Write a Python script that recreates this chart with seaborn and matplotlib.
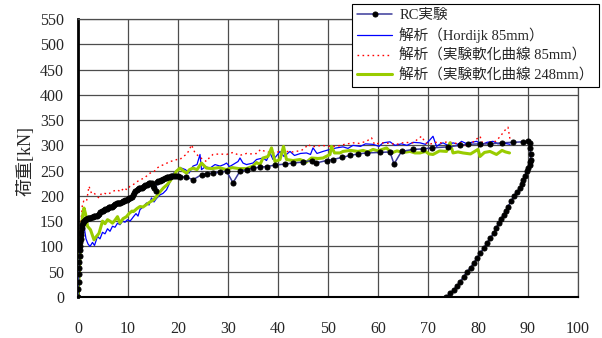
import matplotlib
matplotlib.use("Agg")
import matplotlib.pyplot as plt
import seaborn as sns

# RC experiment: displacement [mm] and load [kN]
rc_x = [0, 0.05, 0.1, 0.15, 0.2, 0.25, 0.3, 0.35, 0.4, 0.45, 0.5, 0.55, 0.6, 0.7, 0.8,
        0.9, 1.0, 1.15, 1.3, 1.5, 1.7, 1.95, 2.2, 2.45, 2.7, 2.95, 3.2, 3.45, 3.7, 3.95,
        4.2, 4.45, 4.7, 4.95, 5.2, 5.45, 5.7, 5.95,
        6.2, 6.45, 6.7, 6.95, 7.2, 7.45, 7.7, 7.95, 8.2, 8.45, 8.7, 8.95, 9.2, 9.45,
        9.7, 9.95, 10.2, 10.45, 10.7, 10.95, 11.2, 11.45, 11.7, 11.95, 12.2, 12.45,
        12.7, 12.95, 13.2, 13.45, 13.7, 13.95, 14.2, 14.45, 14.7, 15.0, 15.2, 15.5,
        15.8, 16.05, 16.3, 16.55, 16.8, 17.05, 17.3, 17.55, 17.8, 18.05, 18.3, 18.55,
        18.8, 19.1, 19.5, 19.9,
        20.4, 21.5, 23.0, 24.7, 25.7, 27.0, 28.4, 29.7, 31.0, 32.4, 33.7, 35.0, 36.4,
        37.7, 39.4, 41.4, 43.0, 45.0, 46.7, 47.6, 49.7, 51.0, 52.7, 54.4, 56.0, 57.7,
        60.4, 62.4, 63.2, 64.7, 67.0, 69.0, 70.7, 74.0, 76.4, 78.0, 80.4, 82.4, 84.7,
        87.0, 89.0, 90.0, 90.4, 90.4, 90.5, 90.5, 90.4, 90.3, 90.0, 89.7, 89.4, 89.0,
        88.7, 88.4, 87.8, 87.1, 86.6, 86.0, 85.6, 85.1, 84.6, 84.1, 83.6, 83.1, 82.4,
        81.7, 81.1, 80.4, 79.8, 79.1, 78.5, 77.8, 77.1, 76.4, 75.8, 75.1, 74.4, 73.6]
rc_y = [0, 15, 30, 45, 58, 70, 82, 92, 100, 108, 115, 122, 128, 136, 142,
        146, 149, 151, 152, 154, 155, 156, 157, 157, 158, 159, 160, 160, 160, 162,
        165, 168, 170, 171, 172, 174, 175, 177,
        178, 178, 178, 180, 182, 184, 185, 185, 185, 186, 188, 189, 190, 191,
        192, 193, 195, 196, 198, 202, 205, 209, 212, 214, 215, 215,
        215, 218, 220, 221, 222, 224, 225, 226, 226, 220, 215, 210,
        228, 229, 230, 231, 232, 234, 235, 236, 237, 237, 238, 239,
        240, 240, 240, 239,
        237, 238, 232, 242, 244, 245, 247, 249, 226, 249, 252, 255, 257,
        258, 261, 263, 265, 267, 270, 265, 270, 272, 276, 280, 283, 285,
        286, 287, 263, 288, 292, 293, 295, 297, 300, 302, 303, 303, 305,
        306, 307, 308, 305, 295, 282, 272, 267, 262, 255, 249, 240, 232,
        224, 216, 208, 199, 189, 179, 171, 163, 155, 146, 136, 126, 116,
        106, 96, 87, 77, 67, 58, 50, 40, 30, 22, 14, 7, 0]

# Analysis, Hordijk softening, 85 mm
hd_x = [0, 0.3, 0.6, 0.9, 1.2, 1.6, 2.0, 2.4, 2.9, 3.3, 3.9, 4.4, 4.9, 5.4, 5.9, 6.4,
        6.9, 7.4, 7.9, 8.4, 8.9, 9.4, 9.9, 10.4, 10.8, 11.1, 11.6, 12.0, 12.4, 13.0,
        13.7, 14.2, 14.7, 15.2, 15.7, 16.4, 17.0, 17.7, 18.3, 19.1, 19.8, 20.7, 21.5,
        22.2, 23.0, 23.8, 24.4, 24.7, 25.5, 26.4, 27.4, 28.4, 29.2, 29.7, 30.3, 31.0,
        32.0, 32.4, 33.0, 33.7, 35.0, 35.7, 37.0, 37.7, 38.4, 39.0, 39.6, 40.4, 41.2,
        42.4, 43.3, 44.5, 45.7, 46.5, 47.0, 47.8, 49.0, 50.4, 51.7, 53.0, 54.0, 55.0,
        56.5, 57.5, 59.0, 60.2, 61.0, 62.4, 63.4, 64.7, 65.8, 67.0, 68.4, 69.5, 70.3,
        71.0, 71.7, 72.3, 73.0, 74.0, 75.0, 76.0, 76.7, 77.8, 78.7, 79.7, 80.8, 81.8,
        83.0, 84.0, 85.0, 86.4]
hd_y = [0, 60, 120, 155, 140, 115, 105, 100, 108, 102, 120, 115, 128, 125, 135, 130,
        140, 138, 146, 143, 150, 148, 153, 150, 155, 159, 165, 160, 173, 178,
        186, 182, 196, 188, 195, 202, 205, 212, 225, 245, 250, 255, 252,
        245, 259, 262, 282, 252, 258, 255, 262, 259, 262, 265, 258, 262,
        268, 275, 265, 262, 265, 272, 275, 270, 285, 272, 278, 288, 278,
        288, 280, 284, 285, 282, 295, 284, 288, 292, 295, 297, 294, 300,
        298, 303, 302, 298, 305, 307, 300, 303, 300, 306, 305, 302, 310,
        318, 298, 302, 305, 300, 305, 302, 308, 303, 306, 308, 302, 306,
        308, 303, 305, 302]

# Analysis, measured softening curve, 85 mm
s85_x = [0, 0.3, 0.6, 0.9, 1.2, 1.7, 2.2, 2.7, 3.2, 3.7, 4.2, 4.7, 5.2, 5.8, 6.5, 7.2,
         7.9, 8.5, 9.2, 9.8, 10.4, 11.0, 11.8, 12.4, 13.2, 13.8, 14.4, 15.2, 15.8, 16.4,
         17.2, 17.8, 18.4, 19.2, 19.8, 20.4, 21.0, 21.7, 22.2, 22.7, 23.4, 24.2, 25.0,
         25.7, 26.3, 27.0, 28.3, 29.7, 31.0, 32.3, 33.7, 34.4, 35.8, 36.5, 37.4, 38.5,
         39.5, 40.5, 41.7, 43.0, 44.7, 45.5, 46.0, 46.8, 48.7, 50.4, 51.7, 53.3, 55.0,
         56.2, 57.7, 58.7, 59.3, 60.5, 62.3, 63.7, 65.3, 67.0, 68.7, 69.5, 70.3, 71.5,
         72.7, 74.0, 75.5, 76.6, 77.7, 78.8, 80.4, 81.0, 82.2, 83.5, 84.5, 85.2, 86.0,
         86.4]
s85_y = [0, 80, 150, 185, 190, 189, 219, 205, 206, 200, 196, 205, 206, 203, 206, 210,
         212, 208, 216, 212, 219, 222, 228, 232, 235, 240, 245, 248, 255, 259,
         262, 265, 268, 270, 272, 272, 278, 282, 290, 301, 285, 278, 272,
         268, 276, 282, 283, 282, 286, 280, 284, 283, 284, 292, 288, 286,
         284, 290, 288, 287, 290, 296, 302, 297, 300, 298, 298, 302, 305,
         304, 308, 315, 302, 305, 304, 302, 306, 305, 318, 305, 302, 306,
         305, 307, 304, 305, 298, 305, 318, 302, 306, 308, 318, 328, 336,
         312]

# Analysis, measured softening curve, 248 mm
s248_x = [0, 0.3, 0.6, 0.9, 1.2, 1.5, 1.9, 2.5, 3.2, 3.7, 4.2, 4.9, 5.4, 5.9, 6.4, 6.9,
          7.4, 7.9, 8.4, 9.0, 9.7, 10.2, 10.8, 11.1, 11.8, 12.4, 13.0, 13.7, 14.4, 15.1,
          15.7, 16.4, 17.1, 17.8, 18.4, 19.1, 19.7, 20.4, 21.0, 21.7, 22.3, 23.0, 23.8,
          24.7, 25.7, 26.8, 28.2, 29.7, 30.8, 32.2, 33.7, 35.0, 35.7, 36.4, 37.0, 38.0,
          38.7, 39.4, 40.4, 41.1, 41.7, 43.0, 44.4, 45.7, 46.7, 48.0, 49.0, 50.4, 50.7,
          51.3, 52.4, 53.0, 54.5, 56.0, 57.0, 58.0, 59.0, 60.0, 61.7, 62.7, 63.8, 65.0,
          66.4, 67.4, 68.4, 69.5, 70.2, 71.0, 72.3, 73.7, 74.4, 75.0, 76.0, 77.0, 78.5,
          80.0, 80.4, 81.3, 82.4, 83.7, 84.8, 85.5, 86.3]
s248_y = [0, 60, 120, 160, 176, 165, 140, 133, 113, 120, 126, 150, 145, 153, 150, 146,
          152, 159, 146, 155, 159, 165, 170, 169, 175, 179, 178, 183, 188, 192,
          199, 208, 216, 222, 229, 240, 249, 255, 250, 245, 252, 255, 252,
          265, 255, 254, 256, 252, 256, 254, 254, 259, 266, 262, 275, 278,
          295, 268, 272, 298, 272, 270, 272, 267, 275, 274, 275, 282, 298,
          285, 285, 288, 290, 288, 290, 287, 292, 289, 295, 285, 289, 286,
          288, 285, 285, 288, 283, 282, 289, 288, 305, 285, 287, 285, 283,
          292, 278, 286, 288, 282, 290, 287, 285]

labels = ["RC実験",
          "解析（Hordijk 85mm）",
          "解析（実験軟化曲線 85mm）",
          "解析（実験軟化曲線 248mm）"]

x_ticks = list(range(0, 101, 10))
y_ticks = list(range(0, 551, 50))

sns.set_style("white")
serif_cjk = ["Liberation Serif", "Noto Sans CJK JP"]
plt.rcParams["font.family"] = serif_cjk

fig = plt.figure(figsize=(6.02, 3.38), dpi=100)
ax = fig.add_axes([78 / 602, 41 / 338, 500 / 602, 278 / 338])

sns.lineplot(x=hd_x, y=hd_y, ax=ax, sort=False, estimator=None,
             color="#0000ff", linewidth=0.9, label=labels[1], zorder=3)
sns.lineplot(x=s85_x, y=s85_y, ax=ax, sort=False, estimator=None,
             color="#ff0000", linewidth=1.0, linestyle=(0, (1.2, 2.4)),
             label=labels[2], zorder=3)
sns.lineplot(x=s248_x, y=s248_y, ax=ax, sort=False, estimator=None,
             color="#99cc00", linewidth=2.2, label=labels[3], zorder=4)
sns.lineplot(x=rc_x, y=rc_y, ax=ax, sort=False, estimator=None,
             color="#3a3a9a", linewidth=1.1, marker="o", markersize=3.6,
             markerfacecolor="black", markeredgecolor="black",
             label=labels[0], zorder=5)

ax.set_xlim(0, 100)
ax.set_ylim(0, 550)
ax.set_xticks(x_ticks)
ax.set_yticks(y_ticks)
ax.set_xticklabels([str(v) for v in x_ticks])
ax.set_yticklabels([str(v) for v in y_ticks])
ax.tick_params(axis="both", length=0, labelsize=11.5)
ax.tick_params(axis="x", pad=17)
ax.tick_params(axis="y", pad=10)
ax.grid(True, color="#4d4d4d", linewidth=0.9)
ax.set_axisbelow(True)

for side in ["top", "right"]:
    ax.spines[side].set_visible(True)
    ax.spines[side].set_color("#4d4d4d")
    ax.spines[side].set_linewidth(0.9)
ax.spines["left"].set_color("black")
ax.spines["left"].set_linewidth(2.0)
ax.spines["bottom"].set_color("black")
ax.spines["bottom"].set_linewidth(1.5)

ax.set_xlabel("")
ax.set_ylabel("荷重[kN]", fontsize=13, family=serif_cjk)
ax.yaxis.set_label_coords(-0.088, 0.49)

handles, hlabels = ax.get_legend_handles_labels()
order = [hlabels.index(lb) for lb in labels]
leg = ax.legend([handles[i] for i in order], [hlabels[i] for i in order],
                loc="upper left", bbox_to_anchor=(352 / 602, 1 - 4 / 338),
                bbox_transform=fig.transFigure, borderaxespad=0,
                frameon=True, fancybox=False, edgecolor="black",
                framealpha=1, fontsize=10.5, handlelength=2.4,
                handletextpad=0.5, labelspacing=0.36, borderpad=0.35)
leg.get_frame().set_linewidth(0.8)
leg.set_zorder(10)

fig.savefig("out.png", dpi=100)
